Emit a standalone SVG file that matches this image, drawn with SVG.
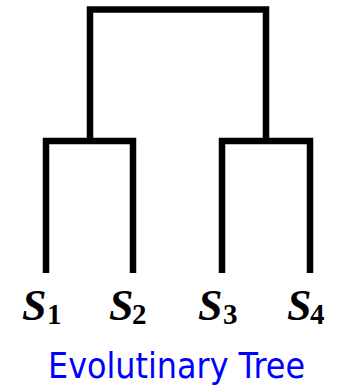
<svg xmlns="http://www.w3.org/2000/svg" width="338" height="388" viewBox="0 0 338 388">
<style>
.edge{fill:none;stroke:#000;stroke-width:6.5;stroke-linejoin:miter;stroke-linecap:butt}
.s{font-family:"Liberation Serif","DejaVu Serif",serif;font-weight:bold;font-style:italic;font-size:44px;fill:#000}
.sub{font-family:"Liberation Serif","DejaVu Serif",serif;font-weight:bold;font-size:29px;fill:#000}
.cap{font-family:"DejaVu Sans","Liberation Sans",sans-serif;font-size:35px;fill:#0000ff}
</style>
<rect width="338" height="388" fill="#fff"/>
<g id="connectors">
<path class="edge" d="M90,141 V9.5 H266 V141"/>
<path class="edge" d="M46,273 V141 H133 V273"/>
<path class="edge" d="M222,273 V141 H310 V273"/>
</g>
<g id="S1"><text class="s" x="22" y="320">S</text><text class="sub" x="47" y="324">1</text></g>
<g id="S2"><text class="s" x="109" y="320">S</text><text class="sub" x="132" y="324">2</text></g>
<g id="S3"><text class="s" x="198" y="320">S</text><text class="sub" x="223" y="324">3</text></g>
<g id="S4"><text class="s" x="287" y="320">S</text><text class="sub" x="310" y="324">4</text></g>
<g id="caption"><text class="cap" x="48" y="378" textLength="257" lengthAdjust="spacingAndGlyphs">Evolutinary Tree</text></g>
</svg>
